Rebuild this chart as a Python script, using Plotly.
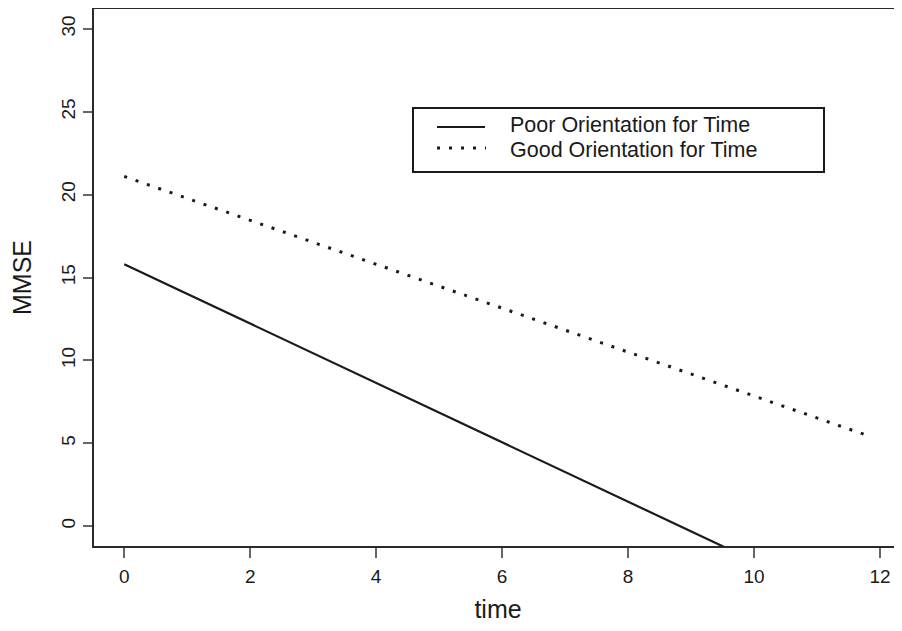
import plotly.graph_objects as go

time = [0.0, 11.85]
poor = [15.8, -5.42]
good = [21.1, 5.4]
series_names = ["Poor Orientation for Time", "Good Orientation for Time"]
x_ticks = [0, 2, 4, 6, 8, 10, 12]
y_ticks = [0, 5, 10, 15, 20, 25, 30]

FONT = "Liberation Sans, Arial, sans-serif"
INK = "#1a1a1a"
DOT = "3px,9px"

# figure-pixel geometry (page body adds an 8px offset)
L, T, W, H = 86, 1, 894, 615
PW, PH = W - L, 537
B = H - T - PH


def px(fx):
    return (fx - L) / PW


def py(fy):
    return (T + PH - fy) / PH


fig = go.Figure()
fig.add_trace(go.Scatter(x=time, y=poor, mode="lines", name=series_names[0],
                         line=dict(color=INK, width=2.2), showlegend=False))
fig.add_trace(go.Scatter(x=time, y=good, mode="lines", name=series_names[1],
                         line=dict(color=INK, width=3, dash=DOT), showlegend=False))

# legend box drawn in R style
rows = [117, 142]
shapes = [
    dict(type="rect", xref="paper", yref="paper", x0=px(405), x1=px(816),
         y0=py(164), y1=py(100), line=dict(color=INK, width=2)),
    dict(type="line", xref="paper", yref="paper", x0=px(429), x1=px(477),
         y0=py(119), y1=py(119), line=dict(color=INK, width=2.2)),
    dict(type="line", xref="paper", yref="paper", x0=px(429), x1=px(478),
         y0=py(140), y1=py(140), line=dict(color=INK, width=3, dash=DOT)),
]
annotations = [
    dict(text=name, xref="paper", yref="paper", x=px(500), y=py(r),
         xanchor="left", yanchor="middle", showarrow=False,
         font=dict(size=21.5, family=FONT, color=INK))
    for name, r in zip(series_names, rows)
]

fig.update_layout(
    width=W, height=H,
    margin=dict(l=L, r=0, t=T, b=B, autoexpand=False),
    paper_bgcolor="white", plot_bgcolor="white",
    font=dict(family=FONT, color=INK, size=19),
    showlegend=False,
    shapes=shapes, annotations=annotations,
)
fig.update_xaxes(range=[-0.48, 12.35], tickvals=x_ticks, ticktext=[str(v) for v in x_ticks],
                 showgrid=False, zeroline=False, showline=True, linecolor="#2a2a2a", linewidth=2,
                 mirror=True, ticks="outside", ticklen=10, tickwidth=1.5, tickcolor="#666",
                 tickfont=dict(size=19), ticklabelstandoff=2, automargin=False,
                 title=dict(text="time", font=dict(size=25), standoff=17))
fig.update_yaxes(range=[-1.2, 31.2], tickvals=y_ticks, ticktext=[str(v) for v in y_ticks],
                 showgrid=False, zeroline=False, showline=True, linecolor="#2a2a2a", linewidth=2,
                 mirror=False, ticks="outside", ticklen=9, tickwidth=1.5, tickcolor="#666",
                 tickangle=-90, tickfont=dict(size=19), ticklabelstandoff=0, automargin=False,
                 title=dict(text="MMSE", font=dict(size=25), standoff=24))

fig.write_html("out.html")
